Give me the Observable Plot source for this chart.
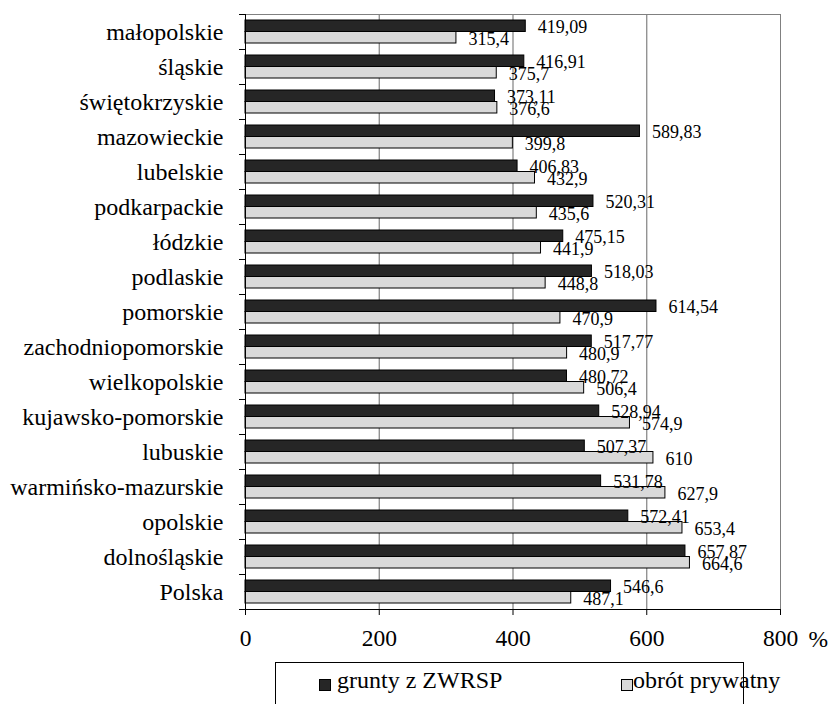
<!DOCTYPE html>
<html>
<head>
<meta charset="utf-8">
<script src="https://cdn.jsdelivr.net/npm/d3@7"></script>
<script src="https://cdn.jsdelivr.net/npm/@observablehq/plot@0.6"></script>
<style>
  html, body { margin: 0; padding: 0; background: #fff; font-family: "Liberation Serif", "Times New Roman", serif; }
  #wrap { position: relative; width: 829px; height: 704px; overflow: hidden; }
  #legend { position: absolute; left: 275px; top: 662px; width: 469px; height: 60px; border: 1px solid #000; box-sizing: border-box; }
  .sw { position: absolute; width: 10px; height: 10px; border: 1px solid #000; top: 16px; }
  .lt { position: absolute; top: 5px; font-size: 24px; line-height: 24px; color: #000; white-space: nowrap; }
</style>
</head>
<body>
<div id="wrap">
  <div id="chart"></div>
  <div id="legend"></div>
</div>
<script>
const categories = ["małopolskie", "śląskie", "świętokrzyskie", "mazowieckie", "lubelskie", "podkarpackie", "łódzkie", "podlaskie", "pomorskie", "zachodniopomorskie", "wielkopolskie", "kujawsko-pomorskie", "lubuskie", "warmińsko-mazurskie", "opolskie", "dolnośląskie", "Polska"];
const grunty = [419.09, 416.91, 373.11, 589.83, 406.83, 520.31, 475.15, 518.03, 614.54, 517.77, 480.72, 528.94, 507.37, 531.78, 572.41, 657.87, 546.6];
const obrot = [315.4, 375.7, 376.6, 399.8, 432.9, 435.6, 441.9, 448.8, 470.9, 480.9, 506.4, 574.9, 610, 627.9, 653.4, 664.6, 487.1];
const seriesNames = ["grunty z ZWRSP", "obrót prywatny"];
const seriesColors = ["#262626", "#d9d9d9"];
const xTicks = [0, 200, 400, 600, 800];
const gridTicks = [200, 400, 600];
const unitLabel = "%";

const data = categories.map((c, i) => ({region: c, grunty: grunty[i], obrot: obrot[i]}));
const fmt = v => String(v).replace(".", ",");

const W = 829, H = 660;
const ML = 245, MR = 49, MT = 14, MB = 51;

// custom axis lines and category boundary ticks (Excel style)
function axisLines(index, scales, values, dims) {
  const y = scales.y;
  const step = y(categories[1]) - y(categories[0]);
  const g = d3.create("svg:g").attr("stroke", "#000").attr("stroke-width", 1);
  const x0 = scales.x(0);
  const top = y(categories[0]);
  const bottom = y(categories[categories.length - 1]) + step;
  g.append("line").attr("x1", x0 + 0.5).attr("x2", x0 + 0.5).attr("y1", top).attr("y2", bottom);
  g.append("line").attr("x1", x0 - 6).attr("x2", scales.x(800)).attr("y1", bottom + 0.5).attr("y2", bottom + 0.5);
  categories.forEach(c => {
    const yy = Math.round(y(c)) + 0.5;
    g.append("line").attr("x1", x0 - 6).attr("x2", x0).attr("y1", yy).attr("y2", yy);
  });
  return g.node();
}

const chart = Plot.plot({
  width: W,
  height: H,
  marginLeft: ML,
  marginRight: MR,
  marginTop: MT,
  marginBottom: MB,
  style: {fontFamily: "serif", fontSize: "18px", background: "#fff", color: "#000"},
  x: {domain: [0, 800], ticks: xTicks},
  y: {type: "band", domain: categories, padding: 0},
  marks: [
    Plot.frame({stroke: "#808080"}),
    Plot.ruleX(gridTicks, {stroke: "#808080", strokeWidth: 1.2}),
    Plot.barX(data, {x1: 0, x2: "grunty", y: "region", fill: seriesColors[0], stroke: "#000", strokeWidth: 1, insetTop: 6, insetBottom: 17.5}),
    Plot.barX(data, {x1: 0, x2: "obrot", y: "region", fill: seriesColors[1], stroke: "#000", strokeWidth: 1, insetTop: 17.5, insetBottom: 6}),
    Plot.text(data, {x: "grunty", y: "region", text: d => fmt(d.grunty), textAnchor: "start", dx: 12, dy: -5, fontSize: 18, fill: "#000"}),
    Plot.text(data, {x: "obrot", y: "region", text: d => fmt(d.obrot), textAnchor: "start", dx: 12, dy: 7, fontSize: 18, fill: "#000"}),
    axisLines,
    Plot.axisY({tickSize: 0, tickPadding: 22, fontSize: 24, label: null, tickFormat: d => d}),
    Plot.axisX({ticks: xTicks, tickSize: 6, tickPadding: 14, fontSize: 23.5, label: null, tickFormat: d => String(d)}),
    Plot.text([unitLabel], {frameAnchor: "bottom-right", text: d => d, textAnchor: "start", dx: 28, dy: 37, fontSize: 23.5, fill: "#000"})
  ]
});
document.getElementById("chart").appendChild(chart);

const legend = document.getElementById("legend");
const legendPos = [{sw: 43, tx: 61}, {sw: 345, tx: 357}];
seriesNames.forEach((name, i) => {
  const s = document.createElement("div");
  s.className = "sw";
  s.style.left = legendPos[i].sw + "px";
  s.style.background = seriesColors[i];
  legend.appendChild(s);
  const t = document.createElement("div");
  t.className = "lt";
  t.style.left = legendPos[i].tx + "px";
  t.textContent = name;
  legend.appendChild(t);
});
</script>
</body>
</html>
